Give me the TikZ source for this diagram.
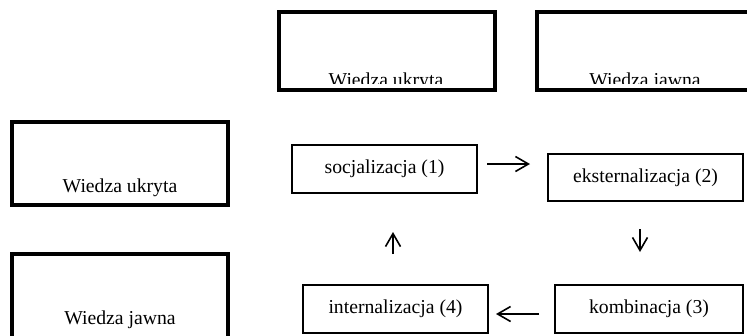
\documentclass[tikz,border=0pt]{standalone}
\usepackage{fontspec}
\setmainfont{Liberation Serif}
\usetikzlibrary{arrows.meta}
\begin{document}
\begin{tikzpicture}[x=1pt,y=-1pt,
  frame/.style={draw, line width=3.6pt, inner sep=0pt, outer sep=0pt},
  stage/.style={draw, line width=1.1pt, inner sep=0pt, outer sep=0pt,
    minimum height=48pt, font=\fontsize{19.7}{23}\selectfont},
  caption/.style={font=\fontsize{19.7}{23}\selectfont, anchor=base, inner sep=0pt},
  flow/.style={line width=1.6pt, -{Straight Barb[length=13pt,width=15pt,line width=1.6pt]}}]
\useasboundingbox (0,0) rectangle (747,335);

% knowledge-type frames (column and row headings)
\node[frame, minimum width=216pt, minimum height=78pt] (colTacit) at (387,51) {};
\node[frame, minimum width=223pt, minimum height=78pt] (colExplicit) at (648.5,51) {};
\node[frame, minimum width=216pt, minimum height=83pt] (rowTacit) at (120,163.5) {};
\node[frame, minimum width=216pt, minimum height=91pt] (rowExplicit) at (120,299.5) {};

% heading texts; the upper ones are cut off by their frames
\begin{scope}
  \clip (270,0) rectangle (760,83);
  \node[caption] (colTacitText) at (386,86) {Wiedza ukryta};
  \node[caption] (colExplicitText) at (645,86) {Wiedza jawna};
\end{scope}
\node[caption] (rowTacitText) at (120,192) {Wiedza ukryta};
\node[caption] (rowExplicitText) at (120,324) {Wiedza jawna};

% the four conversion stages
\node[stage, minimum width=185pt] (soc) at (384.5,169) {socjalizacja (1)};
\node[stage, minimum width=195pt, minimum height=47pt] (eks) at (645.5,177.5) {eksternalizacja (2)};
\node[stage, minimum width=188pt] (kom) at (649,309) {kombinacja (3)};
\node[stage, minimum width=185pt] (int) at (395.5,309) {internalizacja (4)};

% short arrows of the spiral
\coordinate (a1s) at (487,164);  \coordinate (a1e) at (530,164);
\coordinate (a2s) at (640,229);  \coordinate (a2e) at (640,252);
\coordinate (a3s) at (539,314);  \coordinate (a3e) at (496,314);
\coordinate (a4s) at (393,254);  \coordinate (a4e) at (393,232);
\draw[flow] (a1s) -- (a1e);
\draw[flow] (a2s) -- (a2e);
\draw[flow] (a3s) -- (a3e);
\draw[flow] (a4s) -- (a4e);
\end{tikzpicture}
\end{document}
